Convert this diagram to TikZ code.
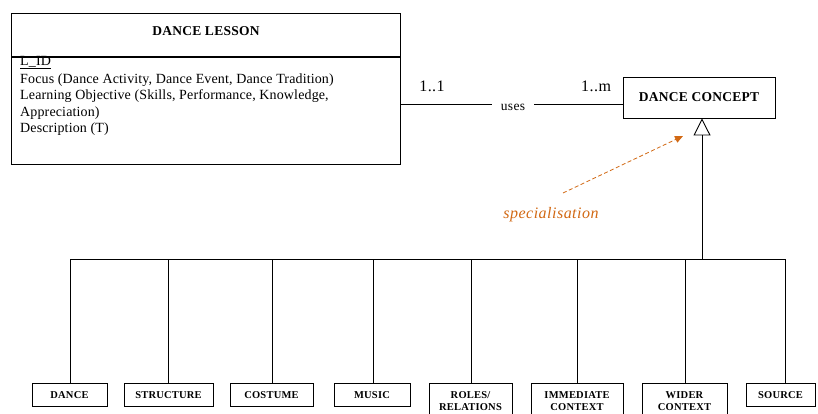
\documentclass[tikz,border=0pt]{standalone}
\usepackage{fontspec}
\setmainfont{Liberation Serif}
\newfontfamily\attrfont[LetterSpace=1]{Liberation Serif}
\newfontfamily\headfont[LetterSpace=2]{Liberation Serif}
\newfontfamily\leaffont[LetterSpace=2]{Liberation Serif}
\newfontfamily\notefont[LetterSpace=3]{Liberation Serif}
\usetikzlibrary{arrows.meta}
\definecolor{noteorange}{RGB}{210,105,20}

\tikzset{
  umlbox/.style={draw, line width=0.9pt, inner sep=0pt},
  headtext/.style={font=\headfont\bfseries\fontsize{13.5}{15}\selectfont},
  leaf/.style={umlbox, anchor=north, inner ysep=8pt, inner xsep=0pt,
    minimum height=23pt, align=center,
    font=\leaffont\bfseries\fontsize{10.5}{12}\selectfont},
  link/.style={line width=0.9pt},
  mult/.style={font=\notefont\fontsize{16}{18}\selectfont, anchor=base, inner sep=0pt},
  note/.style={font=\notefont\itshape\fontsize{16}{18}\selectfont, text=noteorange,
    anchor=base, inner sep=0pt},
  notearrow/.style={noteorange, line width=0.8pt, dash pattern=on 4pt off 2.5pt,
    -{Triangle[length=8pt, width=7pt]}},
}

\begin{document}
\begin{tikzpicture}[x=1pt, y=-1pt]
\fill[white] (0,0) rectangle (818,414);
\useasboundingbox (0,0) rectangle (818,414);

% class DANCE LESSON: header and attribute compartment
\node[umlbox, headtext, anchor=north west, minimum width=389pt, minimum height=43pt,
  text height=9pt, text depth=7pt] (lessonhead) at (11,13) {DANCE LESSON};
\node[umlbox, anchor=north west, minimum width=389pt, minimum height=107pt]
  (lessonbody) at (lessonhead.south west) {};
\node[anchor=north west, inner sep=0pt, align=left,
  font=\attrfont\fontsize{14}{16.3}\selectfont] (attrs) at (20,56)
  {\underline{L\_ID}\\[2pt]
   Focus (Dance Activity, Dance Event, Dance Tradition)\\
   Learning Objective (Skills, Performance, Knowledge,\\
   Appreciation)\\
   Description (T)};

% class DANCE CONCEPT
\node[umlbox, headtext, minimum width=152pt, minimum height=41pt]
  (concept) at (699,97.5) {DANCE CONCEPT};

% association "uses"
\coordinate (assoc) at (513,104);
\node[anchor=base, inner sep=0pt, minimum width=42pt,
  font=\notefont\fontsize{13.5}{15}\selectfont] (uses) at (513,111) {uses};
\draw[link] (lessonbody.east |- assoc) -- (uses.west |- assoc);
\draw[link] (uses.east |- assoc) -- (concept.west |- assoc);
\node[mult] (m1) at (432,92) {1..1};
\node[mult] (m2) at (596,92) {1..m};

% generalisation tree
\coordinate (hub) at (702,259);
\draw[link, -{Triangle[open, length=17pt, width=17pt]}] (hub) -- (hub |- concept.south);

\foreach \name/\x in {dance/70, structure/168, costume/272, music/373,
                      roles/471, immediate/577, wider/685, source/785}
  \coordinate (tap-\name) at (\x,259);
\draw[link] (tap-dance) -- (tap-source);

\node[leaf, minimum width=75pt] (dance)     at (69.5,383)  {DANCE};
\node[leaf, minimum width=89pt] (structure) at (168.5,383) {STRUCTURE};
\node[leaf, minimum width=83pt] (costume)   at (271.5,383) {COSTUME};
\node[leaf, minimum width=76pt] (music)     at (372,383)   {MUSIC};
\node[leaf, minimum width=83pt] (roles)     at (470.5,383) {ROLES/\\RELATIONS};
\node[leaf, minimum width=92pt] (immediate) at (577,383)   {IMMEDIATE\\CONTEXT};
\node[leaf, minimum width=85pt] (wider)     at (684.5,383) {WIDER\\CONTEXT};
\node[leaf, minimum width=69pt] (source)    at (780.5,383) {SOURCE};

\foreach \name in {dance, structure, costume, music, roles, immediate, wider, source}
  \draw[link] (tap-\name) -- (tap-\name |- \name.north);

% annotation
\node[note] (spec) at (551,218.5) {specialisation};
\coordinate (specfrom) at (563,193);
\coordinate (specto) at (683,136);
\draw[notearrow] (specfrom) -- (specto);
\end{tikzpicture}
\end{document}
